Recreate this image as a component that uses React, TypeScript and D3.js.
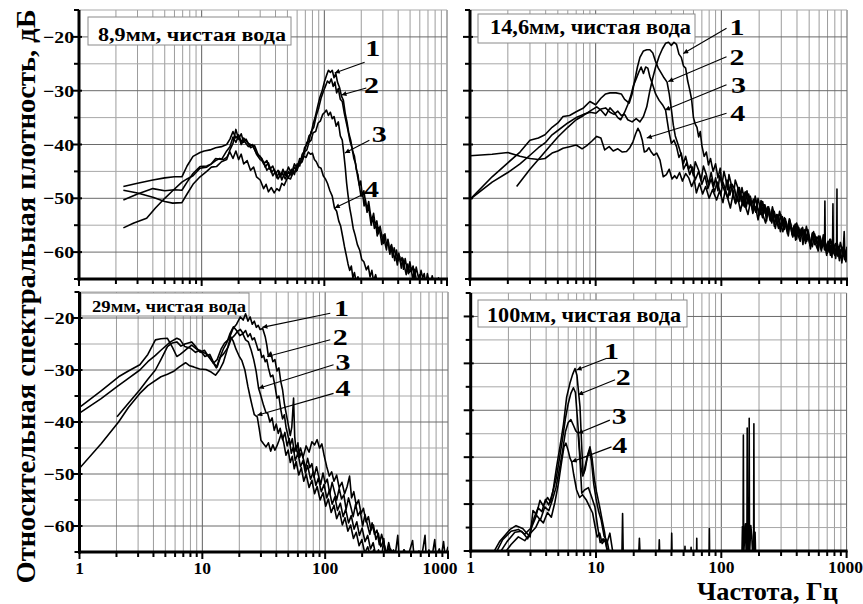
import * as d3 from "d3";

type Pt = [number, number];

// ---- 8,9мм ----
const tl1: Pt[] = [[2.3,-47.8],[3,-47.2],[4,-46.6],[5,-46.2],[6,-46],[6.9,-46],[7.6,-44],[8.5,-42.2],[9.7,-41.5],[10.5,-41.2],[11.7,-41],[13,-40.6],[14.5,-40.4],[16,-40],[17,-39],[18,-37.6],[19,-38.8],[20,-38.2],[21,-39.5],[22,-38.8],[24,-39.8],[26,-40.2],[28,-41.6],[30,-42.2],[32,-43.6],[34,-43],[36,-44.6],[38,-44],[40,-45.5],[42,-44.8],[44,-46],[46,-44.6],[48,-45.8],[51,-44.2],[54,-45.4],[57,-43.6],[60,-44.4],[63,-42.6],[66,-42.8],[69,-40.6],[72,-40],[75,-38.4],[78,-38],[81,-36.2],[84,-35],[88,-33],[92,-31.2],[96,-30],[100,-28.4],[104,-27.2],[108,-26.2],[112,-26.6],[116,-26.2],[120,-27.6],[124,-26.8],[128,-28.4],[133,-29.4],[138,-31],[143,-31.8],[148,-34.2],[153,-35.8],[158,-37.8],[164,-39.2],[170,-41.2],[176,-42.2],[182,-44.6],[188,-45.6],[194,-48],[199,-49.6],[205,-49],[211,-51.4],[216,-50.2],[223,-52.6],[229,-51.4],[235,-53.2],[241,-55],[248,-53.4],[256,-55.6],[263,-54.8],[270,-57],[278,-55.4],[286,-56.6],[294,-58.6],[302,-56.8],[311,-58.2],[321,-59.6],[330,-57.6],[340,-59.8],[350,-58.8],[360,-61],[371,-59.2],[382,-60.6],[394,-62.4],[405,-60.2],[417,-61.8],[430,-61],[442,-63.2],[456,-61.2],[469,-62.8],[484,-64],[498,-61.8],[513,-63.6],[529,-62.6],[545,-64.8],[561,-62.8],[578,-64.2],[596,-65.4],[614,-63.4],[633,-64.8],[652,-64],[672,-66],[692,-64],[713,-65.4],[735,-66.2],[757,-64.4],[780,-65.8],[804,-65],[828,-66.4],[853,-64.8],[880,-66],[900,-66.5]];
const tl2: Pt[] = [[2.3,-48.5],[3,-49],[4,-49.8],[5,-50.6],[5.8,-50.9],[6.9,-50.8],[7.6,-49.2],[8.5,-47.4],[9.7,-46],[11,-45],[12,-44.2],[13.2,-44.1],[14.5,-43.2],[16,-42.8],[17,-41],[18,-39.8],[19,-37.2],[20,-39],[21,-38],[22,-39.6],[23,-39],[25,-40.6],[27,-40.2],[29,-42],[31,-42.6],[33,-44.2],[35,-43.4],[37,-45.2],[39,-44.6],[41,-46.2],[43,-45],[45,-46.6],[48,-45],[51,-46.2],[54,-44.6],[57,-45.6],[60,-43.6],[63,-44],[66,-41.8],[69,-41.2],[72,-39.6],[75,-39.4],[78,-37.6],[82,-36.8],[86,-34.6],[90,-33.2],[94,-31.4],[98,-30.2],[102,-29.2],[106,-28.2],[110,-28.6],[114,-27.8],[118,-29.2],[122,-28.4],[126,-30.4],[130,-29.6],[135,-31.6],[140,-32],[145,-34],[150,-35.6],[156,-37.4],[162,-39.4],[168,-40.6],[174,-42.6],[180,-43.6],[187,-46],[193,-47.6],[198,-46.8],[204,-49.6],[210,-48.6],[217,-50.8],[223,-52],[230,-50.6],[237,-52.8],[244,-54.2],[252,-52.8],[260,-55],[268,-54.2],[276,-56.6],[285,-55.2],[294,-57],[303,-58.4],[312,-56.6],[322,-58.8],[332,-58],[342,-60.4],[353,-58.6],[364,-60],[375,-61.6],[387,-59.6],[399,-61.6],[411,-60.8],[424,-63],[437,-61.2],[451,-62.8],[465,-64.2],[479,-62.2],[494,-63.8],[510,-63],[526,-65.2],[542,-63.2],[559,-64.8],[577,-66],[595,-64.2],[614,-65.6],[633,-64.8],[653,-66.4],[680,-65],[720,-66.5]];
const tl3: Pt[] = [[2.3,-50.3],[3,-49.2],[4,-48.2],[5,-48.6],[6,-48.4],[6.9,-48.5],[7.6,-47],[8.5,-45.4],[9.7,-44.1],[11,-44],[12,-43.6],[13,-42.6],[14.5,-42.8],[16,-41.2],[17,-40.4],[18,-38.6],[19,-39.6],[20,-38.4],[21,-40],[22,-39.2],[24,-40.4],[26,-40],[28,-41.8],[30,-42.8],[32,-43.2],[34,-44.8],[36,-44.2],[38,-45.8],[40,-45],[42,-46.4],[45,-45.2],[48,-46.4],[51,-45],[54,-45.8],[57,-44.2],[60,-44.8],[63,-43],[66,-43.2],[69,-41.4],[72,-41],[75,-39.6],[78,-39.2],[81,-37.8],[85,-37.6],[89,-36],[93,-35.6],[97,-34.4],[101,-34],[104,-33.6],[108,-34.6],[112,-34],[116,-35.2],[120,-34.8],[125,-36.6],[130,-35.8],[135,-38.4],[140,-39.2],[144,-41.6],[148,-44.2],[152,-47.2],[156,-49.4],[161,-51.8],[166,-53.4],[172,-55.6],[178,-56.8],[186,-58.6],[194,-59.6],[202,-61.4],[210,-61.8],[220,-63.3],[228,-62.6],[236,-64.6],[244,-63.4],[252,-65.4],[262,-64.2],[272,-66]];
const tl4: Pt[] = [[2.3,-55.5],[2.8,-54.6],[3.56,-53.7],[4.2,-51.8],[5,-50],[5.8,-48.6],[6.9,-47],[7.6,-46.4],[8.5,-45.8],[9.7,-44.4],[11,-44.2],[12,-43.6],[13,-43],[14,-42.6],[15,-42.8],[16,-42.4],[17,-41.4],[18,-42.6],[19,-41.2],[20,-42.8],[21,-41.8],[22,-43.6],[23.5,-43],[25,-44.8],[26.5,-44.2],[28,-46],[30,-46.6],[32,-48.2],[33.5,-47.4],[35,-48.8],[37,-48],[39,-49],[41,-48.2],[43,-48.6],[45,-47.2],[47,-47.6],[50,-46.2],[53,-46.4],[56,-45],[59,-45],[62,-43.6],[65,-43.4],[68,-42.2],[71,-42.4],[74,-41.4],[77,-41.8],[80,-41.6],[83,-42.8],[86,-43.2],[90,-44.2],[94,-44.4],[98,-45.8],[102,-46.4],[106,-47.2],[111,-48.6],[116,-49.6],[121,-51.8],[126,-52.4],[131,-54.2],[136,-55.2],[141,-57.1],[146,-59],[151,-60.6],[156,-62.2],[161,-63.4],[166,-62.6],[171,-64.8],[176,-63.8],[182,-65.6],[188,-64.6],[194,-66]];

// ---- 14,6мм ----
const tr1: Pt[] = [[1,-50.2],[1.5,-47],[2,-45.2],[2.5,-43.6],[3,-42],[3.5,-40.6],[4,-39.6],[4.5,-38.2],[5,-37.4],[6,-36],[7,-35],[8,-34.4],[9,-34],[10,-34.2],[11,-33.4],[12,-33.2],[13,-34],[14,-34.4],[15,-33.8],[16,-34.6],[17,-34.4],[18,-35.4],[19.5,-35.8],[21,-35.2],[22.5,-35.8],[24,-34.8],[25.5,-33],[27,-30],[28.5,-27.6],[30,-25.6],[32,-23.6],[34,-22.2],[36,-21.2],[38,-21],[40,-21.6],[42,-21],[44,-21.4],[46,-23.2],[48,-23.8],[50,-25.4],[52,-25.8],[54,-28.2],[56,-29.8],[58,-31.6],[60,-35],[62,-36.2],[64,-36.8],[66,-38.6],[68,-37.6],[70,-40.2],[73,-42.2],[76,-41.4],[79,-43.8],[82,-42.6],[86,-45],[90,-43.6],[94,-46.2],[98,-44.4],[101,-47.6],[105,-45],[108,-46.2],[112,-48.4],[115,-45.6],[121,-47.8],[125,-49.6],[129,-46.6],[136,-48.2],[140,-50.6],[146,-48],[150,-49.4],[153,-51.6],[160,-48.6],[167,-51.2],[171,-50],[178,-52.8],[186,-49.6],[193,-51.6],[199,-53.2],[207,-50.4],[214,-52.4],[220,-51.2],[229,-54.2],[238,-51.6],[246,-53.8],[257,-52.2],[264,-55.2],[275,-53],[286,-54.2],[295,-56.2],[306,-53.4],[318,-55.8],[327,-54.4],[341,-57],[352,-54.6],[366,-56.8],[378,-55.2],[390,-57.8],[404,-55],[419,-57.2],[433,-56],[446,-58.6],[462,-55.8],[478,-58],[495,-56.8],[512,-59.4],[530,-56.6],[551,-58.6],[570,-57.2],[589,-59.8],[610,-57.6],[632,-59.2],[650,-58.2],[662,-59.6],[667,-50.5],[672,-59.2],[689,-60.6],[705,-58.2],[723,-60],[740,-58.8],[759,-61],[767,-59.4],[773,-51],[779,-60],[797,-58.8],[812,-61.2],[828,-59.8],[832,-48.3],[836,-60.4],[852,-59],[870,-61.6],[890,-59.6],[910,-62],[930,-60.2],[950,-56.2],[962,-60.6],[980,-61.8],[1000,-60.4]];
const tr2: Pt[] = [[1,-50.2],[1.5,-46],[2,-43.4],[2.5,-41.4],[3,-39.2],[3.5,-38.8],[3.95,-38.2],[4.5,-36.8],[5,-36],[5.5,-34.8],[6.2,-34.6],[7,-33.9],[8,-33.2],[9,-32],[10,-32.6],[11,-31.4],[12,-30.6],[13,-30.4],[14.5,-30.4],[16,-30.6],[17,-31.6],[18.5,-32.3],[19.5,-30.6],[20.5,-28],[21.5,-25.6],[22.5,-23.8],[24,-22.6],[25.5,-22.4],[27,-22.4],[28.5,-23],[30,-24.6],[31.5,-25.8],[33,-26.6],[35,-27.6],[37,-28.4],[38.5,-30.6],[40,-33.4],[41.5,-36.4],[43,-38.4],[45,-39.8],[47,-41.2],[50,-43.5],[52,-42.2],[55,-44.6],[57,-43.8],[60,-45.8],[62,-43.2],[66,-44.8],[69,-46.6],[72,-44],[76,-45.6],[79,-47.4],[83,-45.2],[87,-47.8],[90,-46.2],[94,-48.6],[97,-45.8],[102,-47.6],[107,-48.8],[111,-46.6],[117,-49.4],[122,-47.4],[128,-48.4],[133,-50.6],[139,-48],[146,-50.2],[152,-49],[158,-51.6],[165,-49.2],[173,-51.4],[180,-50.2],[188,-52.6],[196,-50],[205,-52.2],[213,-53.6],[222,-51.2],[232,-53.2],[241,-52],[252,-54.6],[263,-52.4],[274,-54],[285,-55.6],[297,-53],[310,-55.4],[322,-54.2],[336,-56.6],[350,-54],[366,-56.2],[381,-55],[397,-57.6],[413,-55.4],[431,-57],[449,-56],[468,-58.4],[488,-55.8],[508,-57.8],[530,-59],[552,-56.6],[576,-58.4],[600,-57.4],[625,-59.8],[652,-57.4],[680,-59.2],[708,-58],[738,-60.6],[770,-58.2],[802,-60],[836,-58.8],[871,-61.2],[908,-59],[946,-60.8],[986,-59.6],[1000,-61.4]];
const tr3: Pt[] = [[2.35,-47.8],[3,-44.6],[3.5,-42.8],[4,-41.2],[5,-38.6],[6,-36.8],[7,-35.4],[8,-34.6],[9,-33.8],[10.2,-33],[11,-33.6],[12,-34.6],[13,-33.2],[14,-34],[15,-35],[15.8,-35.4],[17,-34],[18,-32.6],[19,-31],[20,-29],[21,-27.8],[22,-26.6],[23,-25.6],[24,-26.8],[25,-25.6],[26,-25.8],[27,-27.4],[28.5,-29],[30,-30.6],[32,-31.8],[34,-32.6],[36,-33.6],[38,-37.2],[40,-39.8],[42,-39.2],[44,-40.4],[46,-42.4],[48,-41.6],[50,-44.6],[53,-43.4],[56,-45.6],[59,-44.2],[62,-46.6],[66,-45],[70,-47.4],[74,-45.8],[78,-48.2],[83,-46.4],[88,-48.8],[93,-47],[99,-49.4],[103,-47],[108,-48.4],[113,-50],[118,-47.4],[124,-49.2],[129,-50.8],[136,-48],[142,-49.8],[149,-51.4],[155,-48.8],[163,-51],[170,-49.6],[178,-52.4],[186,-50],[195,-51.8],[204,-53],[213,-50.6],[223,-52.8],[233,-51.6],[244,-54],[255,-51.6],[267,-53.6],[279,-54.8],[291,-52.4],[305,-54.6],[318,-53.6],[333,-56],[348,-53.8],[364,-55.6],[380,-57],[397,-54.6],[416,-56.6],[434,-55.6],[454,-57.8],[475,-55.2],[496,-57.4],[519,-58.6],[542,-56.2],[567,-58],[593,-57],[620,-59.4],[648,-56.8],[678,-58.8],[709,-59.8],[741,-57.6],[775,-59.4],[810,-58.4],[847,-60.8],[886,-58.2],[926,-60.2],[968,-61],[1000,-59]];
const tr4: Pt[] = [[1,-42.1],[1.5,-41.8],[2,-41.5],[2.5,-42.2],[3,-42.6],[3.5,-42.8],[3.95,-42.6],[4.5,-41.6],[5,-41.2],[5.5,-40.7],[6.2,-40.4],[7,-40.1],[7.8,-40.8],[8.5,-40.2],[9.3,-39.4],[10.2,-38.5],[11,-38.8],[11.8,-41],[12.8,-40.4],[13.8,-41.2],[15,-40.8],[16.3,-41.4],[17.6,-41.3],[18.7,-40.6],[19.8,-39.5],[20.8,-38],[21.7,-37],[22.6,-37.8],[23.5,-39.2],[24.4,-41.4],[25.4,-41.2],[26.5,-40.6],[27.7,-41.4],[29,-42],[30.6,-41.6],[32.5,-42.9],[34.5,-46],[36.5,-45.6],[38.5,-44.6],[40.5,-46.4],[42.5,-45.8],[44.2,-46.3],[46.5,-45.2],[49,-46.8],[52,-45.4],[55,-46.2],[58,-47.8],[61,-46.6],[63.3,-49],[67,-47.2],[71,-49.2],[75,-47.8],[80,-50],[85,-48.4],[91.7,-50.3],[97,-48.6],[103,-50.8],[107,-48.6],[113,-50.2],[118,-51.8],[124,-49.2],[130,-51],[135,-49.8],[142,-52.4],[149,-50],[156,-51.6],[163,-53],[171,-50.4],[179,-52.6],[187,-51.6],[196,-54],[205,-51.4],[215,-53.2],[225,-54.6],[235,-52],[246,-54.2],[257,-53.2],[269,-55.6],[282,-53],[295,-54.8],[309,-56.2],[323,-53.8],[338,-55.8],[353,-54.8],[370,-57.2],[387,-54.8],[405,-56.6],[424,-58],[443,-55.4],[464,-57.4],[485,-56.6],[508,-58.8],[531,-56.4],[556,-58.2],[582,-59.4],[609,-57],[637,-58.8],[667,-57.8],[698,-60.2],[730,-57.6],[764,-59.6],[800,-60.6],[837,-58.4],[876,-60.2],[916,-59.2],[958,-61.4],[1000,-59.6]];

// ---- 29мм ----
const bl1: Pt[] = [[1,-37.2],[1.5,-34],[2.08,-31.3],[2.5,-30.2],[3.1,-29],[3.6,-27],[4.15,-24.2],[4.6,-24],[5.2,-23.9],[5.7,-25.6],[6.2,-27.4],[6.6,-27],[7,-26.5],[7.6,-25.8],[8.2,-25.2],[9,-26],[10.2,-26.6],[11.2,-27.2],[12.3,-28.7],[13.2,-28],[14.2,-26],[15.2,-24.8],[16.5,-24],[17.8,-22],[19,-21.2],[20.4,-19.8],[21.5,-20.4],[22.5,-19.2],[23.5,-20.6],[24.5,-19.8],[25.5,-21.2],[26.5,-20.6],[27.5,-21.8],[28.5,-21.4],[29.5,-22.2],[31,-22],[32.5,-23.6],[33.5,-25.2],[34.5,-27.4],[36,-26.6],[37.5,-28.4],[39,-28],[40.5,-30.2],[42,-29.6],[43.5,-32.2],[45,-33.8],[46.5,-36.4],[48,-38.2],[50,-40.4],[52,-42.6],[53.5,-41],[55.3,-35.4],[56.5,-42.8],[58,-45.6],[60,-44],[62,-46.8],[64,-45.8],[67,-47.4],[69,-49],[72,-47],[75,-48.8],[78,-48],[81,-50.6],[85,-48.6],[88,-50.2],[92,-52],[96,-49.8],[100,-51.8],[104,-51],[109,-53.8],[114,-51.6],[119,-53.4],[124,-55],[130,-52.8],[136,-54.8],[142,-54],[148,-56.8],[155,-54.6],[162,-56.4],[169,-58.2],[177,-55.8],[185,-58],[193,-57.2],[202,-60],[211,-57.8],[221,-59.8],[231,-61.6],[241,-59.4],[252,-61.6],[264,-60.8],[276,-63.6],[288,-61.6],[301,-63.4],[315,-65.4],[329,-63.2],[344,-65.2],[360,-64.6],[376,-66.5],[395,-65],[415,-66.8],[437,-64.6],[460,-67],[484,-65.8],[510,-67.5]];
const bl2: Pt[] = [[1,-38.3],[1.5,-35.5],[2.02,-33.2],[2.5,-31.6],[3.1,-30],[3.6,-28.4],[4.15,-27.2],[4.6,-26.2],[5.5,-24.6],[6.2,-23.9],[6.6,-24.2],[7.2,-25.5],[8,-25.8],[8.8,-26.6],[9.6,-26.2],[10.5,-27.4],[11.5,-27],[12.5,-28.8],[13.2,-29.4],[14,-27.6],[15,-26.8],[16.2,-25.6],[17.2,-24],[18.2,-23.4],[19.3,-22.6],[20.4,-22.2],[21.5,-23],[22.5,-22.4],[23.5,-23.6],[24.5,-23],[25.5,-24.2],[26.5,-23.8],[27.5,-25],[28.5,-26.2],[29.5,-26],[30.5,-27.6],[31.5,-27.2],[32.5,-28.4],[33.5,-28],[34.5,-29.6],[36,-31.3],[37.5,-31],[39,-33],[40.5,-35.4],[42,-35],[43.5,-37.6],[45,-39.4],[46.5,-38.6],[48,-41],[50,-42.8],[52,-44.4],[54,-43.2],[56,-45.8],[58,-44.6],[60,-46.4],[63,-45],[66,-46.8],[70,-44.6],[74,-45.8],[78,-43.8],[82,-44.4],[86,-43.4],[90,-45],[94,-44.2],[98,-46.4],[103,-48.6],[108,-50.4],[113,-49.6],[118,-51.4],[124,-50.2],[130,-52.6],[137,-51.6],[144,-53.8],[151,-52.4],[158,-50.4],[164,-54.6],[171,-53.4],[179,-56],[187,-55],[196,-57.6],[205,-56.6],[215,-59.2],[225,-58.2],[236,-60.8],[247,-59.8],[259,-62.6],[271,-61.4],[284,-64],[298,-62.8],[313,-65.4],[329,-64.2],[346,-66],[364,-64.8],[383,-66.5],[403,-65.2],[424,-67]];
const bl3: Pt[] = [[2.02,-39],[2.5,-36.4],[3.1,-33.8],[3.6,-31.8],[4.15,-30],[4.6,-28],[5.2,-25.5],[5.7,-24.8],[6.2,-24.6],[6.7,-25.4],[7.2,-25],[7.7,-24.8],[8.2,-24.6],[8.9,-25.6],[9.6,-26.6],[10.4,-26.2],[11.2,-27.4],[12.1,-28.4],[13,-29.6],[13.8,-27.8],[14.8,-26],[15.8,-24.8],[16.8,-23],[17.9,-21.7],[19,-22.4],[20.2,-23.4],[21.3,-23],[22.5,-24.2],[23.7,-24.6],[25,-26.2],[26.2,-28],[27.4,-30.2],[28.7,-33.5],[30,-35],[31.5,-36.8],[33,-38.2],[34,-38.3],[35.5,-40],[37,-39.2],[38.5,-41.6],[40,-40.4],[41.5,-42.2],[43,-41.2],[45,-43.4],[47,-42],[49,-44.6],[51,-43.2],[53,-46],[55,-44.8],[57,-47.4],[60,-46],[63,-48.6],[66,-47.4],[69,-49.8],[72,-48.4],[76,-51],[80,-49.6],[84,-52.2],[88,-50.8],[93,-53.4],[98,-52],[103,-54.6],[108,-53.2],[114,-55.8],[120,-54.4],[126,-57],[133,-55.6],[140,-58.2],[147,-56.8],[155,-59.4],[163,-58],[172,-60.6],[181,-59.2],[190,-61.8],[200,-60.4],[211,-63],[222,-61.8],[234,-64.4],[246,-63.2],[259,-65.8],[272,-64.6],[286,-66.5],[301,-65.6],[317,-67]];
const bl4: Pt[] = [[1,-48.9],[1.5,-44.2],[2.08,-40],[2.5,-37.2],[3.1,-34.5],[3.6,-33],[4.6,-31.3],[5.2,-30.8],[5.8,-30.3],[6.5,-29.4],[7.3,-28.6],[7.9,-29.2],[8.5,-29.4],[9.5,-29.8],[10.7,-29.9],[11.8,-30.4],[12.8,-31],[13.8,-30],[14.8,-28.6],[15.8,-26.4],[17,-23.6],[17.8,-24.4],[18.8,-26],[20,-27.4],[21,-28.2],[22.2,-30],[23.5,-33.2],[24.5,-35.2],[25.5,-37],[26.5,-38.6],[28,-39],[29,-41.2],[30,-43.5],[31.5,-44.2],[33,-44.8],[34.5,-44],[36,-45.6],[37.5,-44.4],[39,-45.4],[40.5,-44.6],[42,-43.6],[44,-42.2],[46,-44],[48,-46.4],[50,-45.4],[52,-47.8],[54,-46.6],[56,-49],[58,-47.6],[61,-50.2],[64,-48.8],[67,-51.4],[70,-50],[74,-52.6],[78,-51.2],[82,-53.8],[86,-52.4],[91,-55],[96,-53.6],[101,-56.2],[106,-54.8],[112,-57.4],[118,-56],[124,-58.6],[131,-57.2],[138,-59.8],[145,-58.4],[153,-61],[161,-59.8],[170,-62.4],[179,-61.2],[189,-63.8],[199,-62.6],[210,-65.2],[222,-64],[235,-66],[248,-64.6],[262,-66.5],[290,-65.6],[300,-62.4],[310,-66],[340,-64.4],[370,-66],[390,-61.8],[400,-66],[440,-64.6],[470,-66],[515,-62.8],[530,-66],[580,-64.8],[610,-66],[650,-61.8],[665,-66],[700,-64.6],[740,-66],[780,-62.6],[800,-66],[850,-64.4],[880,-66],[920,-63],[950,-66],[1000,-64]];

// ---- 100мм ----
const br1: Pt[] = [[1.47,-71],[1.7,-68],[2.06,-65.4],[2.3,-64.6],[2.6,-65.2],[2.98,-67],[3.14,-61.4],[3.35,-62.2],[3.57,-59.2],[3.8,-60.4],[4.1,-58.6],[4.35,-59.6],[4.55,-57],[4.85,-52],[5.17,-47.6],[5.5,-43],[5.83,-37.2],[6.2,-34.2],[6.5,-32.4],[6.8,-31.1],[7.05,-32.6],[7.25,-36],[7.45,-39.2],[7.7,-48],[7.9,-53.8],[8.2,-52.6],[8.6,-49.4],[8.95,-47.8],[9.3,-50.2],[9.7,-54.6],[10.1,-57.4],[10.7,-60.6],[11.2,-63.4],[11.7,-66],[12.2,-69.3],[12.8,-71]];
const br2: Pt[] = [[1.55,-71],[1.8,-67.6],[2.1,-65.8],[2.4,-65.4],[2.7,-66.4],[3,-65.2],[3.2,-63],[3.45,-60.8],[3.7,-61.6],[3.95,-59],[4.2,-60.2],[4.5,-57.6],[4.8,-54.6],[5.1,-50.4],[5.4,-46.2],[5.7,-41.8],[6,-38.6],[6.3,-36.4],[6.6,-35.2],[6.85,-36.2],[7.1,-41.6],[7.35,-47.2],[7.6,-52.4],[7.85,-54],[8.15,-52.2],[8.5,-50],[8.85,-48.6],[9.2,-50.8],[9.6,-55.8],[10,-58.8],[10.5,-61.6],[11,-63.4],[11.6,-66.8],[12.3,-68],[12.9,-71]];
const br3: Pt[] = [[1.65,-71],[1.95,-68],[2.25,-66],[2.55,-65.8],[2.85,-67.4],[3.1,-64.6],[3.35,-62.4],[3.6,-63.4],[3.9,-60.6],[4.2,-61.4],[4.5,-59],[4.8,-56.4],[5.1,-52.6],[5.4,-48.8],[5.7,-44.6],[6,-42.6],[6.3,-42],[6.6,-43.2],[6.9,-44.4],[7.2,-44.9],[7.45,-50.6],[7.7,-57.7],[8.1,-57],[8.7,-56.5],[9.2,-58.4],[9.8,-60.6],[10.3,-64.8],[10.8,-68.2],[11.4,-67.4],[12.2,-68.4],[12.9,-66.2],[13.5,-69.6],[14,-71]];
const br4: Pt[] = [[1.8,-71],[2.1,-68.6],[2.4,-67],[2.7,-67.8],[3,-66.2],[3.3,-65],[3.55,-63.2],[3.8,-64],[4.1,-61.8],[4.4,-62.8],[4.7,-59.6],[5,-55.8],[5.3,-51.2],[5.55,-47.8],[5.75,-47],[6,-48.6],[6.2,-50.2],[6.4,-51],[6.65,-53.8],[7,-57],[7.4,-58.6],[7.8,-58],[8.4,-59.2],[8.9,-60.6],[9.4,-61.9],[9.8,-64.6],[10.2,-67],[10.7,-66.2],[11.2,-68.4],[11.8,-67.6],[12.5,-71]];
const brSpikes: Pt[] = [[13.5,-71],[16.1,-71],[16.3,-62],[16.5,-71],[21.9,-71],[22.2,-67.3],[22.5,-71],[31.7,-71],[32,-67.6],[32.3,-71],[39.9,-71],[40.2,-66.2],[40.5,-71],[51,-71],[51.3,-69],[51.6,-71],[57.1,-71],[57.4,-69.2],[57.7,-71],[63.4,-71],[63.7,-67.3],[64,-71],[79.9,-71],[80.3,-65.2],[80.7,-71],[146,-71],[147.5,-64.8],[149,-71],[150,-45.3],[151,-71],[154,-66],[156,-64.2],[158,-71],[160,-71],[161,-43.8],[162,-71],[164,-65],[166,-71],[167,-41.7],[168,-71],[172,-64.6],[175,-66.8],[178,-71],[181,-71],[182,-42.9],[183,-71],[186,-66],[188,-71]];

// curve numbers: label point (l), leader start (s), leader tip on the curve (e), in Hz / dB
type Note = { n: string; l: Pt; s: Pt; e: Pt };
const tlNotes: Note[] = [
  { n: "1", l: [248, -21.9], s: [213, -24.7], e: [121.5, -26.7] },
  { n: "2", l: [243, -28.9], s: [220, -29.5], e: [138, -30.8] },
  { n: "3", l: [281, -37.9], s: [233, -39.2], e: [147, -41.6] },
  { n: "4", l: [243, -48.1], s: [202, -49.4], e: [121.5, -51.8] },
];
const trNotes: Note[] = [
  { n: "1", l: [133, -18.0], s: [110, -18.4], e: [49.8, -23.1] },
  { n: "2", l: [133, -23.6], s: [110, -23.7], e: [37.8, -28.3] },
  { n: "3", l: [137, -28.8], s: [110, -28.9], e: [35.6, -33.6] },
  { n: "4", l: [135, -34.0], s: [110, -34.2], e: [25.5, -38.8] },
];
const blNotes: Note[] = [
  { n: "1", l: [136, -18.0], s: [110, -19.1], e: [30.8, -21.8] },
  { n: "2", l: [133, -23.5], s: [110, -24.2], e: [33.8, -27.4] },
  { n: "3", l: [140, -28.4], s: [117, -29.0], e: [28.8, -33.5] },
  { n: "4", l: [140, -33.3], s: [117, -34.5], e: [28, -38.7] },
];
const brNotes: Note[] = [
  { n: "1", l: [13.3, -27.2], s: [12.2, -28.9], e: [7.0, -31.4] },
  { n: "2", l: [16.5, -32.8], s: [14.2, -33.5], e: [7.2, -36.7] },
  { n: "3", l: [15.3, -41.0], s: [12.9, -42.1], e: [7.2, -44.9] },
  { n: "4", l: [15.5, -47.2], s: [13.3, -47.8], e: [6.4, -51.0] },
];

const xTickLabels = ["1", "10", "100", "1000"];
const FONT = "'Liberation Serif', 'Times New Roman', serif";

type Panel = {
  id: string;
  x0: number; x1: number; y0: number; y1: number;
  yDomain: [number, number];
  title: string;
  box: { x: number; y: number; w: number; h: number; tx: number; ty: number; fs: number; tl: number };
  yLabels: boolean;
  xLabels: boolean;
  lastLabelShift: number;
  curves: Pt[][];
  notes: Note[];
};

const panels: Panel[] = [
  { id: "tl", x0: 79, x1: 447, y0: 10, y1: 279, yDomain: [-65, -15], title: "8,9мм, чистая вода",
    box: { x: 88, y: 17, w: 203, h: 28, tx: 98, ty: 41, fs: 18.5, tl: 188 }, yLabels: true, xLabels: false,
    lastLabelShift: 0, curves: [tl1, tl2, tl3, tl4], notes: tlNotes },
  { id: "tr", x0: 470, x1: 847, y0: 10, y1: 279, yDomain: [-65, -15], title: "14,6мм, чистая вода",
    box: { x: 478, y: 14, w: 217, h: 29, tx: 490, ty: 33.5, fs: 21, tl: 201 }, yLabels: false, xLabels: false,
    lastLabelShift: 0, curves: [tr1, tr2, tr3, tr4], notes: trNotes },
  { id: "bl", x0: 79.5, x1: 448, y0: 292, y1: 552, yDomain: [-65, -15], title: "29мм, чистая вода",
    box: { x: 81, y: 293, w: 168, h: 23, tx: 92, ty: 311.5, fs: 17, tl: 154 }, yLabels: true, xLabels: true,
    lastLabelShift: -8, curves: [bl1, bl2, bl3, bl4], notes: blNotes },
  { id: "br", x0: 470.7, x1: 846.6, y0: 293, y1: 551, yDomain: [-70, -15], title: "100мм, чистая вода",
    box: { x: 478, y: 300, w: 209, h: 27, tx: 487, ty: 321.5, fs: 21, tl: 194 }, yLabels: false, xLabels: true,
    lastLabelShift: -1, curves: [br1, br2, br3, br4, brSpikes], notes: brNotes },
];

const PanelView = ({ p }: { p: Panel }) => {
  const xs = d3.scaleLog().domain([1, 1000]).range([p.x0, p.x1]);
  const ys = d3.scaleLinear().domain(p.yDomain).range([p.y1, p.y0]);
  const line = d3.line<Pt>().x((d) => xs(d[0])).y((d) => ys(d[1]));
  const xTicks = xs.ticks();
  const yTicks = d3.range(p.yDomain[0], p.yDomain[1] + 0.01, 5);
  const majorX = (v: number) => Math.abs(Math.log10(v) - Math.round(Math.log10(v))) < 1e-6;
  const majorY = (v: number) => v % 10 === 0;

  return (
    <g>
      <clipPath id={`clip-${p.id}`}>
        <rect x={p.x0} y={p.y0} width={p.x1 - p.x0} height={p.y1 - p.y0} />
      </clipPath>
      <rect x={p.x0} y={p.y0} width={p.x1 - p.x0} height={p.y1 - p.y0} fill="#fff" />
      {xTicks.map((v) => (
        <line key={"gx" + v} x1={xs(v)} x2={xs(v)} y1={p.y0} y2={p.y1}
          stroke={majorX(v) ? "#5e5e5e" : "#9c9c9c"} strokeWidth={1} />
      ))}
      {yTicks.map((v) => (
        <line key={"gy" + v} x1={p.x0} x2={p.x1} y1={ys(v)} y2={ys(v)}
          stroke={majorY(v) ? "#6a6a6a" : "#a8a8a8"} strokeWidth={1} />
      ))}
      <rect x={p.box.x} y={p.box.y} width={p.box.w} height={p.box.h} fill="#fff" stroke="#8a8a8a" strokeWidth={1} />
      <text x={p.box.tx} y={p.box.ty} fontSize={p.box.fs} fontWeight="bold" fontFamily={FONT}
        textLength={p.box.tl} lengthAdjust="spacingAndGlyphs">{p.title}</text>
      <g clipPath={`url(#clip-${p.id})`}>
        {p.curves.map((c, i) => (
          <path key={i} d={line(c) ?? ""} fill="none" stroke="#000" strokeWidth={1.6} strokeLinejoin="round" />
        ))}
      </g>
      {p.notes.map((nt) => (
        <g key={nt.n}>
          <line x1={xs(nt.s[0])} y1={ys(nt.s[1])} x2={xs(nt.e[0])} y2={ys(nt.e[1])}
            stroke="#000" strokeWidth={1.1} markerEnd="url(#arrow)" />
          <text x={xs(nt.l[0])} y={ys(nt.l[1])} dy="0.36em" textAnchor="middle" fontSize={24}
            fontWeight="bold" fontFamily={FONT} textLength={15} lengthAdjust="spacingAndGlyphs">{nt.n}</text>
        </g>
      ))}
      {/* axes */}
      <line x1={p.x0} x2={p.x0} y1={p.y0} y2={p.y1 + 1.5} stroke="#000" strokeWidth={3} />
      <line x1={p.x0 - 1.5} x2={p.x1 + 1} y1={p.y1} y2={p.y1} stroke="#000" strokeWidth={3} />
      {yTicks.map((v) => (
        <line key={"ty" + v} x1={p.x0 - (majorY(v) ? 7 : 5)} x2={p.x0 + (majorY(v) ? 3 : 0)}
          y1={ys(v)} y2={ys(v)} stroke="#000" strokeWidth={2} />
      ))}
      {xTicks.map((v) => (
        <line key={"tx" + v} x1={xs(v)} x2={xs(v)} y1={p.y1} y2={p.y1 + (majorX(v) ? 7 : 5)}
          stroke="#000" strokeWidth={2} />
      ))}
      {p.yLabels &&
        yTicks.filter(majorY).filter((v) => v < p.yDomain[1]).map((v) => (
          <text key={"ly" + v} x={p.x0 - 5} y={ys(v)} dy="0.36em" textAnchor="end" fontSize={17}
            fontWeight="bold" fontFamily={FONT} textLength={31} lengthAdjust="spacingAndGlyphs">{d3.format("d")(v)}</text>
        ))}
      {p.xLabels &&
        xTickLabels.map((t, i) => (
          <text key={"lx" + t} x={xs(+t) + (i === xTickLabels.length - 1 ? p.lastLabelShift : 0)} y={p.y1 + 22}
            textAnchor="middle" fontSize={17.5} fontWeight="bold" fontFamily={FONT}>{t}</text>
        ))}
    </g>
  );
};

export default function App() {
  return (
    <svg width={863} height={604} style={{ position: "absolute", left: 0, top: 0, background: "#fff" }}>
      <defs>
        <marker id="arrow" viewBox="0 0 10 10" refX="10" refY="5" markerWidth="7" markerHeight="5"
          markerUnits="userSpaceOnUse" orient="auto">
          <path d="M0,0 L10,5 L0,10 z" fill="#000" />
        </marker>
      </defs>
      <rect width={863} height={604} fill="#fff" />
      {panels.map((p) => (
        <PanelView key={p.id} p={p} />
      ))}
      <text transform="translate(35,296.5) rotate(-90)" textAnchor="middle" fontSize={28} fontWeight="bold"
        fontFamily={FONT} textLength={574} lengthAdjust="spacingAndGlyphs">
        Относительная спектральная плотность, дБ
      </text>
      <text x={697} y={600} fontSize={25} fontWeight="bold" fontFamily={FONT} textLength={141}
        lengthAdjust="spacingAndGlyphs">Частота, Гц</text>
    </svg>
  );
}
